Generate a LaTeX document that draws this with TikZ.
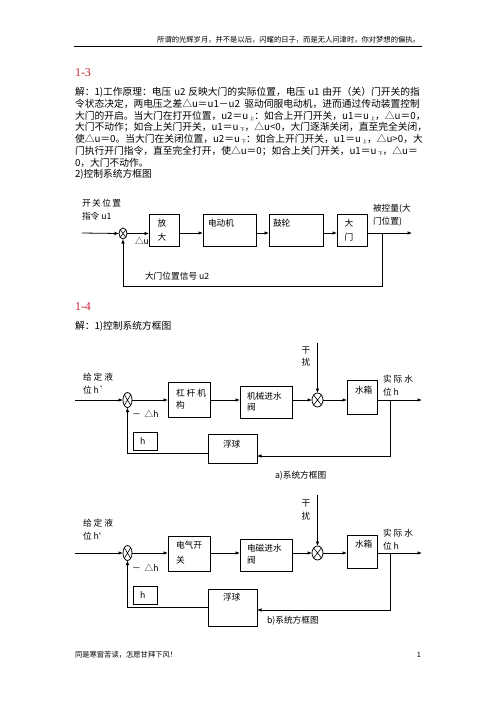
\documentclass[tikz,border=0pt]{standalone}
\usepackage{fontspec}
\newfontfamily\cjk{Noto Sans CJK SC}
\newfontfamily\serifl{Liberation Serif}
\usetikzlibrary{arrows.meta,shapes.geometric}
\definecolor{headred}{RGB}{205,35,55}
\XeTeXlinebreaklocale "zh"
\XeTeXlinebreakskip=0pt plus 1fil
\newcommand\subx[1]{\,\raisebox{-1pt}{\fontsize{4.5}{5}\selectfont #1}}
\newcommand\jline[1]{\makebox[345pt][s]{#1}}
\begin{document}
\begin{tikzpicture}[x=1pt,y=-1pt,line width=0.8pt,
  every node/.style={inner sep=0pt,outer sep=0pt},
  blk/.style={draw,rectangle},
  sumj/.style={draw,ellipse,inner sep=0pt},
  arr/.style={-{Latex[length=4.5pt,width=3.6pt]}},
  lbl/.style={anchor=west,font=\cjk\fontsize{8.7}{9}\selectfont},
  clbl/.style={font=\cjk\fontsize{8.7}{9}\selectfont},
  body/.style={anchor=west,font=\cjk\fontsize{9.75}{11}\selectfont},
  head/.style={anchor=west,font=\serifl\fontsize{12}{13}\selectfont,text=headred},
  small/.style={font=\cjk\fontsize{7.3}{8}\selectfont}]
\useasboundingbox[fill=white] (0,0) rectangle (496,702);

% header / footer
\node[small,anchor=east] (hdr) at (420,40) {所谓的光辉岁月，并不是以后，闪耀的日子，而是无人问津时，你对梦想的偏执。};
\coordinate (hl) at (74,46);
\coordinate (hr) at (422,46);
\draw[line width=0.6pt] (hl) -- (hr);
\node[small,anchor=west] (ftr) at (75,655) {同是寒窗苦读，怎愿甘拜下风！};
\node[small] (pg) at (419,655) {1};

% 1-3 text
\node[head] (h13) at (75,73) {1-3};
\node[body] (p1) at (75,92) {\jline{解：1)工作原理：电压 u2 反映大门的实际位置，电压 u1 由开（关）门开关的指}};
\node[body] (p2) at (75,103.8) {\jline{令状态决定，两电压之差△u＝u1－u2 驱动伺服电动机，进而通过传动装置控制}};
\node[body] (p3) at (75,115.6) {\jline{大门的开启。当大门在打开位置，u2＝u\subx{上}：如合上开门开关，u1＝u\subx{上}，△u＝0，}};
\node[body] (p4) at (75,127.4) {\jline{大门不动作；如合上关门开关，u1＝u\subx{下}，△u<0，大门逐渐关闭，直至完全关闭，}};
\node[body] (p5) at (75,139.2) {\jline{使△u＝0。当大门在关闭位置，u2＝u\subx{下}：如合上开门开关，u1＝u\subx{上}，△u>0，大}};
\node[body] (p6) at (75,151) {\jline{门执行开门指令，直至完全打开，使△u＝0；如合上关门开关，u1＝u\subx{下}，△u＝}};
\node[body] (p7) at (75,162.8) {0，大门不动作。};
\node[body] (p8) at (75,174.6) {2)控制系统方框图};

% diagram 1-3
\coordinate (in1) at (82,233);
\node[sumj,minimum width=8,minimum height=11] (s1) at (123,233.5) {};
\draw[line width=0.6pt] (s1.north east) -- (s1.south west) (s1.north west) -- (s1.south east);
\node[blk,minimum width=30,minimum height=32] (amp) at (164,230) {};
\node[blk,minimum width=53,minimum height=32] (mot) at (229.5,230) {};
\node[blk,minimum width=54,minimum height=32] (drum) at (296,230) {};
\node[blk,minimum width=30,minimum height=32] (gate) at (352,230) {};
\coordinate (out1) at (412,233);
\coordinate (fb1) at (382,233);
\coordinate (fb1b) at (382,286);
\draw[arr] (in1) -- (s1.west);
\draw[arr] (s1.east) -- (s1.east -| amp.west);
\draw[arr] (amp.east |- in1) -- (mot.west |- in1);
\draw[arr] (mot.east |- in1) -- (drum.west |- in1);
\draw[arr] (drum.east |- in1) -- (gate.west |- in1);
\draw[arr] (gate.east |- in1) -- (out1);
\draw[arr] (fb1) -- (fb1b) -| (s1.south);
\node[lbl] (t1) at (82,203) {开\,关\,位\,置};
\node[lbl] (t2) at (82,216) {指令 u1};
\node[lbl] (t3) at (135,241) {△u};
\node[lbl] (t4) at (145,276) {大门位置信号 u2};
\node[lbl] (t5) at (373,209) {被控量(大};
\node[lbl] (t6) at (373,222) {门位置)};
\node[clbl] (t7) at (162,223) {放};
\node[clbl] (t8) at (162,237) {大};
\node[lbl] (t9) at (208,223) {电动机};
\node[lbl] (t10) at (273,223) {鼓轮};
\node[clbl] (t11) at (349,223) {大};
\node[clbl] (t12) at (349,237) {门};

% 1-4 text
\node[head] (h14) at (75,307) {1-4};
\node[body] (q1) at (75,326) {解：1)控制系统方框图};

% diagram 1-4 a
\coordinate (ina) at (75,400);
\node[sumj,minimum width=9,minimum height=15] (sa1) at (127.5,400) {};
\draw[line width=0.6pt] (sa1.north east) -- (sa1.south west) (sa1.north west) -- (sa1.south east);
\node[blk,minimum width=42,minimum height=35] (leva) at (189,399.5) {};
\node[blk,minimum width=52,minimum height=32] (valvea) at (266,402) {};
\node[sumj,minimum width=11,minimum height=14] (sa2) at (317.5,400) {};
\draw[line width=0.6pt] (sa2.north east) -- (sa2.south west) (sa2.north west) -- (sa2.south east);
\node[blk,minimum width=30,minimum height=34] (tanka) at (362,397) {};
\node[blk,minimum width=49,minimum height=29] (floata) at (232.5,448.5) {};
\node[blk,minimum width=24,minimum height=18] (hba) at (145,441) {};
\coordinate (outa) at (422,400);
\coordinate (dista) at (317.5,343);
\coordinate (fba) at (390,400);
\coordinate (fbab) at (390,456);
\coordinate (fbac) at (127.5,453);
\draw[arr] (ina) -- (sa1.west);
\draw[arr] (sa1.east) -- (sa1.east -| leva.west);
\draw[arr] (leva.east |- ina) -- (valvea.west |- ina);
\draw[arr] (valvea.east |- ina) -- (sa2.west);
\draw[arr] (sa2.east) -- (sa2.east -| tanka.west);
\draw[arr] (tanka.east |- ina) -- (outa);
\draw[arr] (dista) -- (sa2.north);
\draw[arr] (fba) -- (fbab) -- (fbab -| floata.east);
\draw[arr] (floata.west |- fbac) -- (fbac) -- (sa1.south);
\node[lbl] (a1) at (83,377) {给 定 液};
\node[lbl] (a2) at (83,390) {位 h`};
\node[lbl] (a3) at (132,414) {－\ \ △h};
\node[lbl] (a4) at (176,393) {杠 杆 机};
\node[lbl] (a5) at (176,405) {构};
\node[lbl] (a6) at (247,396) {机械进水};
\node[lbl] (a7) at (247,407) {阀};
\node[clbl] (a8) at (306,350) {干};
\node[clbl] (a9) at (306,362) {扰};
\node[lbl] (a10) at (355,390) {水箱};
\node[lbl] (a11) at (383,379) {实 际 水};
\node[lbl] (a12) at (383,392) {位 h};
\node[lbl] (a13) at (223,444) {浮球};
\node[lbl] (a14) at (140,441) {h};
\node[lbl] (a15) at (275,476) {a)系统方框图};

% diagram 1-4 b
\coordinate (inb) at (75,553);
\node[sumj,minimum width=9,minimum height=15] (sb1) at (127.5,553) {};
\draw[line width=0.6pt] (sb1.north east) -- (sb1.south west) (sb1.north west) -- (sb1.south east);
\node[blk,minimum width=42,minimum height=35] (levb) at (189,553.5) {};
\node[blk,minimum width=52,minimum height=32] (valveb) at (266,555) {};
\node[sumj,minimum width=11,minimum height=14] (sb2) at (317.5,553) {};
\draw[line width=0.6pt] (sb2.north east) -- (sb2.south west) (sb2.north west) -- (sb2.south east);
\node[blk,minimum width=30,minimum height=33] (tankb) at (362,551.5) {};
\node[blk,minimum width=49,minimum height=37] (floatb) at (232.5,607.5) {};
\node[blk,minimum width=24,minimum height=18] (hbb) at (145,595) {};
\coordinate (outb) at (422,553);
\coordinate (distb) at (317.5,495);
\coordinate (fbb) at (390,553);
\coordinate (fbbb) at (390,610);
\coordinate (fbbc) at (127.5,607);
\draw[arr] (inb) -- (sb1.west);
\draw[arr] (sb1.east) -- (sb1.east -| levb.west);
\draw[arr] (levb.east |- inb) -- (valveb.west |- inb);
\draw[arr] (valveb.east |- inb) -- (sb2.west);
\draw[arr] (sb2.east) -- (sb2.east -| tankb.west);
\draw[arr] (tankb.east |- inb) -- (outb);
\draw[arr] (distb) -- (sb2.north);
\draw[arr] (fbb) -- (fbbb) -- (fbbb -| floatb.east);
\draw[arr] (floatb.west |- fbbc) -- (fbbc) -- (sb1.south);
\node[lbl] (b1) at (83,523) {给 定 液};
\node[lbl] (b2) at (83,536) {位 h'};
\node[lbl] (b3) at (132,568) {－\ \ △h};
\node[lbl] (b4) at (176,545) {电气开};
\node[lbl] (b5) at (176,560) {关};
\node[lbl] (b6) at (247,548) {电磁进水};
\node[lbl] (b7) at (247,560) {阀};
\node[clbl] (b8) at (306,503) {干};
\node[clbl] (b9) at (306,516) {扰};
\node[lbl] (b10) at (355,544) {水箱};
\node[lbl] (b11) at (383,533) {实 际 水};
\node[lbl] (b12) at (383,546) {位 h};
\node[lbl] (b13) at (223,597) {浮球};
\node[lbl] (b14) at (140,595) {h};
\node[lbl] (b15) at (267,621) {b)系统方框图};
\end{tikzpicture}
\end{document}
